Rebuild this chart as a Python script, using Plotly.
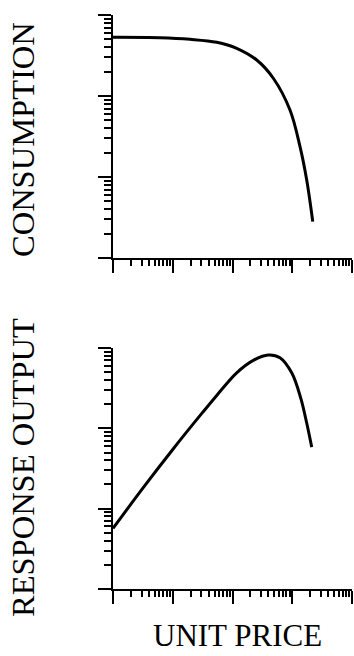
import plotly.graph_objects as go

# Data (log-log axes, arbitrary units; decades only)
price_top = [1.0, 6.12, 19.5, 54.5, 117.5, 254.1, 482.0, 916.2, 1349.0, 1746.0, 2203.0]
consumption = [531.0, 524.8, 501.2, 460.3, 388.1, 278.0, 165.6, 67.1, 23.7, 9.18, 2.81]

price_bot = [1.0, 3.16, 10.0, 31.6, 54.5, 117.5, 222.8, 397.2, 623.7, 979.5, 1384.0, 1746.0, 2118.0]
response = [5.68, 18.0, 54.6, 157.8, 257.0, 491.0, 701.5, 818.5, 756.8, 491.0, 239.3, 116.4, 58.3]

major_x = [1, 10, 100, 1000, 10000]
major_y = [1, 10, 100, 1000]
minor_x = [m * 10 ** e for e in range(0, 4) for m in range(2, 10)]
minor_y = [m * 10 ** e for e in range(0, 3) for m in range(2, 10)]

W, H = 354, 656
L, R, T, B = 113, 2, 15, 67
pw, ph = W - L - R, H - T - B

def py(p):
    return (H - B - p) / ph

def px(p):
    return (p - L) / pw

FONT = "Liberation Serif, Times New Roman, serif"

fig = go.Figure()
fig.add_trace(go.Scatter(x=price_top, y=consumption, mode="lines",
                         line=dict(color="black", width=3, shape="spline"),
                         xaxis="x", yaxis="y", showlegend=False))
fig.add_trace(go.Scatter(x=price_bot, y=response, mode="lines",
                         line=dict(color="black", width=3, shape="spline"),
                         xaxis="x2", yaxis="y2", showlegend=False))

axis_common = dict(type="log", showgrid=False, zeroline=False, showline=True,
                   linecolor="black", linewidth=2, ticks="outside", ticklen=13,
                   tickwidth=2, tickcolor="black", showticklabels=False)
xax = dict(axis_common, range=[0, 4], tickmode="array", tickvals=major_x,
           minor=dict(tickmode="array", tickvals=minor_x, ticks="outside",
                      ticklen=6, tickwidth=2, tickcolor="black", showgrid=False))
yax = dict(axis_common, range=[0, 3], tickmode="array", tickvals=major_y,
           minor=dict(tickmode="array", tickvals=minor_y, ticks="outside",
                      ticklen=7, tickwidth=2, tickcolor="black", showgrid=False))

fig.update_layout(
    width=W, height=H, margin=dict(l=L, r=R, t=T, b=B),
    paper_bgcolor="white", plot_bgcolor="white",
    xaxis=dict(xax, domain=[0, 1], anchor="y"),
    yaxis=dict(yax, domain=[py(258), 1], anchor="x"),
    xaxis2=dict(xax, domain=[0, 1], anchor="y2"),
    yaxis2=dict(yax, domain=[0, py(348)], anchor="x2"),
    font=dict(family=FONT, color="black", size=31),
    annotations=[
        dict(text="CONSUMPTION", xref="paper", yref="paper", x=px(23), y=py(140),
             xanchor="center", yanchor="middle", textangle=-90, showarrow=False,
             font=dict(family=FONT, size=32.5, color="black")),
        dict(text="RESPONSE OUTPUT", xref="paper", yref="paper", x=px(23), y=py(468),
             xanchor="center", yanchor="middle", textangle=-90, showarrow=False,
             font=dict(family=FONT, size=32.5, color="black")),
        dict(text="UNIT PRICE", xref="paper", yref="paper", x=px(237), y=py(655),
             xanchor="center", yanchor="bottom", showarrow=False,
             font=dict(family=FONT, size=31, color="black")),
    ],
)

fig.write_html("out.html")
